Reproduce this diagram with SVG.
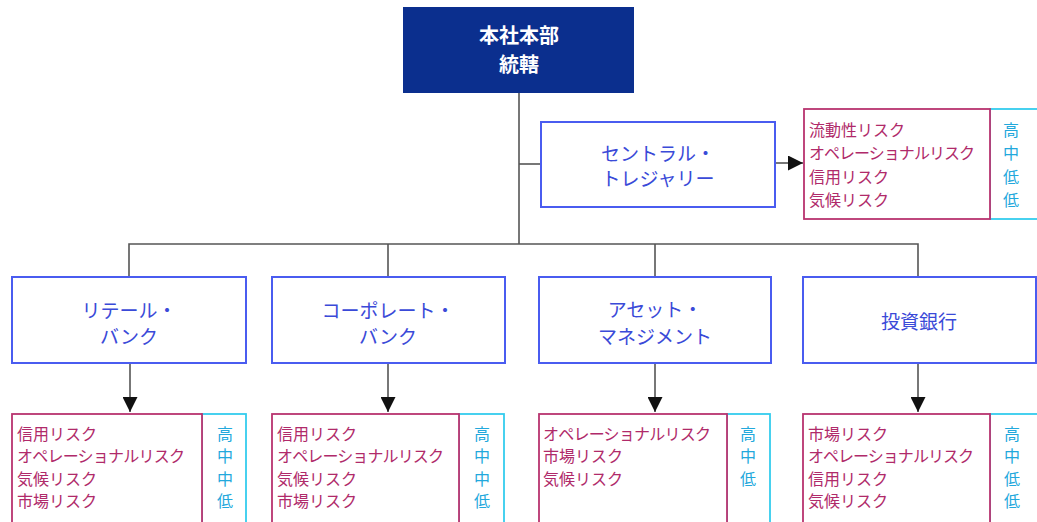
<svg xmlns="http://www.w3.org/2000/svg" width="1037" height="522" viewBox="0 0 1037 522">
<style>
text{font-family:"Noto Sans CJK JP","Noto Sans",sans-serif;dominant-baseline:central}
.unit{fill:#fff;stroke:#4a5cf0;stroke-width:2}
.ul{fill:#3a4ad8;font-size:19px;text-anchor:middle}
.risk{fill:#fff;stroke:#b8336f;stroke-width:1.8}
.rt{fill:#b02a6a;font-size:16px}
.lvl{fill:#fff;stroke:#33ccee;stroke-width:1.8}
.lt{fill:#22a8dc;font-size:16px;text-anchor:middle}
.conn{fill:none;stroke:#555;stroke-width:1.6}
.top{fill:#0b2f8e}
.tt{fill:#fff;font-size:20px;font-weight:bold;text-anchor:middle}
</style>
<defs>
<marker id="ah2" viewBox="0 0 10 10" refX="10" refY="5" markerWidth="15" markerHeight="15" markerUnits="userSpaceOnUse" orient="auto">
<path d="M0,0 L10,5 L0,10 z" fill="#111"/>
</marker>
</defs>
<rect width="1037" height="522" fill="#fff"/>
<g id="connectors">
<path class="conn" d="M519,93 V244"/>
<path class="conn" d="M519,164 H541"/>
<path class="conn" d="M129,277 V244 H918 V277"/>
<path class="conn" d="M388,244 V277"/>
<path class="conn" d="M655,244 V277"/>
<path class="conn" d="M775,163 H803" marker-end="url(#ah2)"/>
<path class="conn" d="M130,363 V412" marker-end="url(#ah2)"/>
<path class="conn" d="M388,363 V412" marker-end="url(#ah2)"/>
<path class="conn" d="M655,363 V412" marker-end="url(#ah2)"/>
<path class="conn" d="M918,363 V412" marker-end="url(#ah2)"/>
</g>
<g id="hq">
<rect class="top" x="403" y="7" width="231" height="86"/>
<text class="tt" x="519" y="34">本社本部</text>
<text class="tt" x="519" y="63">統轄</text>
</g>
<g id="central">
<rect class="unit" x="541" y="122" width="234" height="85"/>
<text class="ul" x="658" y="152">セントラル・</text>
<text class="ul" x="658" y="177">トレジャリー</text>
</g>
<g id="central-risk">
<rect class="lvl" x="990" y="109" width="60" height="110"/>
<rect class="risk" x="804" y="109" width="186" height="110"/>
<text class="rt" x="809" y="129">流動性リスク</text>
<text class="rt" x="809" y="152" textLength="166" lengthAdjust="spacing">オペレーショナルリスク</text>
<text class="rt" x="809" y="176">信用リスク</text>
<text class="rt" x="809" y="199">気候リスク</text>
<text class="lt" x="1011" y="129">高</text>
<text class="lt" x="1011" y="152">中</text>
<text class="lt" x="1011" y="176">低</text>
<text class="lt" x="1011" y="199">低</text>
</g>
<g id="retail">
<rect class="unit" x="12" y="277" width="234" height="86"/>
<text class="ul" x="129" y="309">リテール・</text>
<text class="ul" x="129" y="335">バンク</text>
</g>
<g id="retail-risk">
<rect class="lvl" x="202" y="414" width="44" height="120"/>
<rect class="risk" x="12" y="414" width="190" height="120"/>
<text class="rt" x="17" y="433">信用リスク</text>
<text class="rt" x="17" y="455" textLength="168" lengthAdjust="spacing">オペレーショナルリスク</text>
<text class="rt" x="17" y="478">気候リスク</text>
<text class="rt" x="17" y="500">市場リスク</text>
<text class="lt" x="225" y="433">高</text>
<text class="lt" x="225" y="455">中</text>
<text class="lt" x="225" y="478">中</text>
<text class="lt" x="225" y="500">低</text>
</g>
<g id="corporate">
<rect class="unit" x="272" y="277" width="233" height="86"/>
<text class="ul" x="388" y="309">コーポレート・</text>
<text class="ul" x="388" y="335">バンク</text>
</g>
<g id="corporate-risk">
<rect class="lvl" x="459" y="414" width="45" height="120"/>
<rect class="risk" x="272" y="414" width="187" height="120"/>
<text class="rt" x="277" y="433">信用リスク</text>
<text class="rt" x="277" y="455" textLength="167" lengthAdjust="spacing">オペレーショナルリスク</text>
<text class="rt" x="277" y="478">気候リスク</text>
<text class="rt" x="277" y="500">市場リスク</text>
<text class="lt" x="482" y="433">高</text>
<text class="lt" x="482" y="455">中</text>
<text class="lt" x="482" y="478">中</text>
<text class="lt" x="482" y="500">低</text>
</g>
<g id="asset">
<rect class="unit" x="539" y="277" width="232" height="86"/>
<text class="ul" x="655" y="308">アセット・</text>
<text class="ul" x="655" y="335">マネジメント</text>
</g>
<g id="asset-risk">
<rect class="lvl" x="727" y="414" width="43" height="120"/>
<rect class="risk" x="539" y="414" width="188" height="120"/>
<text class="rt" x="543" y="433" textLength="168" lengthAdjust="spacing">オペレーショナルリスク</text>
<text class="rt" x="543" y="455">市場リスク</text>
<text class="rt" x="543" y="478">気候リスク</text>
<text class="lt" x="748" y="433">高</text>
<text class="lt" x="748" y="455">中</text>
<text class="lt" x="748" y="478">低</text>
</g>
<g id="ib">
<rect class="unit" x="803" y="277" width="233" height="86"/>
<text class="ul" x="919" y="320">投資銀行</text>
</g>
<g id="ib-risk">
<rect class="lvl" x="990" y="414" width="60" height="120"/>
<rect class="risk" x="803" y="414" width="187" height="120"/>
<text class="rt" x="808" y="433">市場リスク</text>
<text class="rt" x="808" y="455" textLength="166" lengthAdjust="spacing">オペレーショナルリスク</text>
<text class="rt" x="808" y="478">信用リスク</text>
<text class="rt" x="808" y="500">気候リスク</text>
<text class="lt" x="1012" y="433">高</text>
<text class="lt" x="1012" y="455">中</text>
<text class="lt" x="1012" y="478">低</text>
<text class="lt" x="1012" y="500">低</text>
</g>
</svg>
